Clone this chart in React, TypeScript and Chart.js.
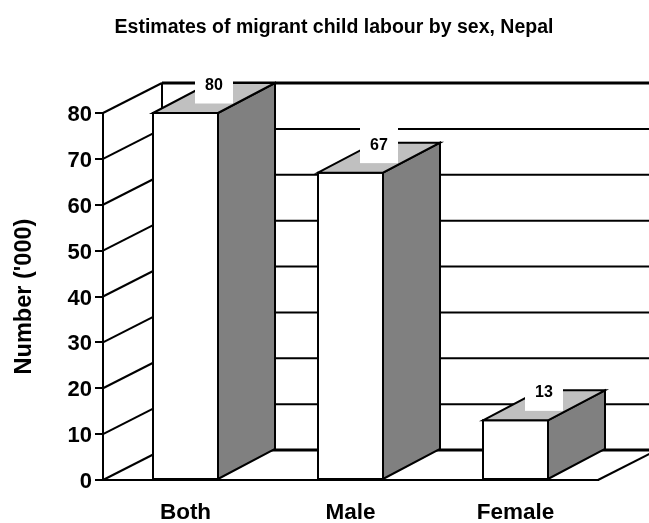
import { useEffect, useRef } from "react";
import { Chart, registerables } from "chart.js";

Chart.register(...registerables);

const categories = ["Both", "Male", "Female"];
const values = [80, 67, 13];
const yMin = 0;
const yMax = 80;
const yStep = 10;
const chartTitle = "Estimates of migrant child labour by sex, Nepal";
const yAxisTitle = "Number ('000)";

const FONT = "'Liberation Sans', Arial, Helvetica, sans-serif";

// depth of the box walls and of each bar, in pixels
const WALL_DX = 59;
const BAR_DX = 57;
const DEPTH_DY = 30;

function seg(ctx: CanvasRenderingContext2D, x1: number, y1: number, x2: number, y2: number) {
  ctx.beginPath();
  ctx.moveTo(x1, y1);
  ctx.lineTo(x2, y2);
  ctx.stroke();
}

function poly(ctx: CanvasRenderingContext2D, pts: number[][], fill: string) {
  ctx.beginPath();
  ctx.moveTo(pts[0][0], pts[0][1]);
  for (let i = 1; i < pts.length; i++) ctx.lineTo(pts[i][0], pts[i][1]);
  ctx.closePath();
  ctx.fillStyle = fill;
  ctx.fill();
  ctx.stroke();
}

const threeDPlugin = {
  id: "threeDBox",
  beforeDatasetsDraw(chart: any) {
    const { ctx, chartArea } = chart;
    const y = chart.scales.y;
    const left = chartArea.left;
    const right = chartArea.right;
    const y0 = y.getPixelForValue(yMin);
    const yTop = y.getPixelForValue(yMax);
    ctx.save();
    ctx.strokeStyle = "#000";
    ctx.lineCap = "butt";
    for (let v = yMin; v <= yMax; v += yStep) {
      const py = y.getPixelForValue(v);
      // back wall gridline
      ctx.lineWidth = v === yMax || v === yMin ? 3 : 2;
      seg(ctx, left + WALL_DX, py - DEPTH_DY, right + WALL_DX, py - DEPTH_DY);
      // side wall gridline
      ctx.lineWidth = 2;
      seg(ctx, left, py, left + WALL_DX, py - DEPTH_DY);
    }
    ctx.lineWidth = 2;
    // back wall left edge
    seg(ctx, left + WALL_DX, yTop - DEPTH_DY, left + WALL_DX, y0 - DEPTH_DY);
    // floor right edge
    seg(ctx, right, y0, right + WALL_DX, y0 - DEPTH_DY);
    ctx.restore();
  },
  afterDatasetsDraw(chart: any) {
    const { ctx } = chart;
    const meta = chart.getDatasetMeta(0);
    ctx.save();
    ctx.strokeStyle = "#000";
    ctx.lineWidth = 2;
    ctx.lineJoin = "miter";
    meta.data.forEach((el: any) => {
      const { x, y, base, width } = el.getProps(["x", "y", "base", "width"], true);
      const l = x - width / 2;
      const r = x + width / 2;
      // front face
      poly(ctx, [[l, y], [r, y], [r, base], [l, base]], "#ffffff");
      // side face
      poly(ctx, [[r, y], [r + BAR_DX, y - DEPTH_DY], [r + BAR_DX, base - DEPTH_DY], [r, base]], "#808080");
      // top face
      poly(ctx, [[l, y], [l + BAR_DX, y - DEPTH_DY], [r + BAR_DX, y - DEPTH_DY], [r, y]], "#c0c0c0");
    });
    // value labels on white boxes
    ctx.font = `bold 16px ${FONT}`;
    ctx.textAlign = "center";
    ctx.textBaseline = "middle";
    meta.data.forEach((el: any, i: number) => {
      const { x, y, width } = el.getProps(["x", "y", "width"], true);
      const cx = x - width / 2 + (width + BAR_DX) / 2;
      const cy = y - DEPTH_DY + 1.5;
      ctx.fillStyle = "#ffffff";
      ctx.fillRect(cx - 19, cy - 19, 38, 38);
      ctx.fillStyle = "#000000";
      ctx.fillText(String(values[i]), cx, cy + 1);
    });
    ctx.restore();
  },
  afterDraw(chart: any) {
    const { ctx } = chart;
    ctx.save();
    ctx.font = `bold 19.5px ${FONT}`;
    ctx.fillStyle = "#000";
    ctx.textAlign = "center";
    ctx.textBaseline = "middle";
    ctx.fillText(chartTitle, 334, 28);
    ctx.restore();
  },
};

export default function App() {
  const canvasRef = useRef<HTMLCanvasElement>(null);

  useEffect(() => {
    if (!canvasRef.current) return;
    Chart.defaults.font.family = FONT;
    Chart.defaults.color = "#000";
    const chart = new Chart(canvasRef.current, {
      type: "bar",
      data: {
        labels: categories,
        datasets: [
          {
            data: values,
            backgroundColor: "rgba(0,0,0,0)",
            borderWidth: 0,
            categoryPercentage: 1,
            barPercentage: 65 / 165,
          },
        ],
      },
      options: {
        responsive: false,
        animation: false,
        layout: { padding: { left: 0, right: 51, top: 113, bottom: 0 } },
        plugins: {
          legend: { display: false },
          tooltip: { enabled: false },
          title: { display: false },
        },
        scales: {
          x: {
            type: "category",
            offset: true,
            grid: { display: false, drawTicks: false },
            border: { display: true, color: "#000", width: 2 },
            ticks: { color: "#000", padding: 19, font: { size: 22.5, weight: "bold", family: FONT } },
            afterFit: (s: any) => {
              s.height = 43;
            },
          },
          y: {
            min: yMin,
            max: yMax,
            ticks: {
              stepSize: yStep,
              color: "#000",
              padding: 3,
              labelOffset: 2,
              font: { size: 22, weight: "bold", family: FONT },
            },
            grid: { drawOnChartArea: false, drawTicks: true, tickLength: 8, color: "#000", lineWidth: 2 },
            border: { display: true, color: "#000", width: 2 },
            title: {
              display: true,
              text: yAxisTitle,
              color: "#000",
              font: { size: 23.5, weight: "bold", family: FONT },
              padding: { top: 10, bottom: 0 },
            },
            afterFit: (s: any) => {
              s.width = 103;
            },
          },
        },
      },
      plugins: [threeDPlugin],
    });
    return () => chart.destroy();
  }, []);

  return (
    <div style={{ position: "absolute", left: 0, top: 0, width: 649, height: 523 }}>
      <canvas ref={canvasRef} width={649} height={523} />
    </div>
  );
}
